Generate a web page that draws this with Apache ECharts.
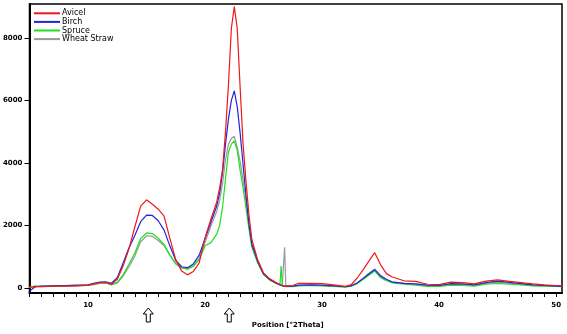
<!DOCTYPE html>
<html>
<head>
<meta charset="utf-8">
<script src="https://cdn.jsdelivr.net/npm/echarts@6/dist/echarts.min.js"></script>
<style>
  html, body { margin: 0; padding: 0; background: #fff; }
  #main { width: 567px; height: 334px; }
</style>
</head>
<body>
<div id="main"></div>
<script>
// 2Theta positions (deg) and intensities
var twoTheta = [5, 5.5, 6, 7, 8, 9, 10, 10.5, 11, 11.5, 12, 12.5, 13, 13.5, 14, 14.5, 15, 15.5, 16, 16.5,
  17, 17.5, 18, 18.5, 19, 19.5, 20, 20.5, 21, 21.25, 21.5, 21.75, 22, 22.25, 22.5, 22.75, 23, 23.25, 23.5, 23.75,
  24, 24.5, 25, 25.5, 26, 26.4, 26.5, 26.6, 26.7, 26.8, 26.9, 27, 27.5, 28, 29, 30, 31, 32, 32.5, 33,
  33.5, 34, 34.5, 35, 35.5, 36, 37, 38, 39, 40, 41, 42, 43, 44, 45, 46, 47, 48, 49, 50, 50.5];

var avicel = [20, 50, 40, 60, 60, 70, 90, 130, 170, 180, 120, 280, 700, 1250, 1950, 2620, 2820, 2680, 2520, 2300,
  1580, 900, 540, 420, 530, 800, 1600, 2200, 2750, 3200, 3800, 5000, 6500, 8300, 9000, 8300, 6400, 4600, 3400, 2350,
  1550, 900, 480, 300, 190, 110, 90, 80, 70, 60, 60, 60, 80, 150, 150, 140, 100, 50, 110, 320,
  580, 860, 1130, 740, 460, 350, 230, 210, 120, 110, 190, 170, 130, 220, 260, 210, 170, 130, 100, 80, 70];

var birch = [-100, 40, 60, 70, 80, 90, 100, 150, 190, 200, 150, 330, 800, 1280, 1680, 2120, 2330, 2320, 2150, 1850,
  1340, 880, 680, 650, 770, 1050, 1580, 2100, 2620, 3050, 3700, 4600, 5400, 6000, 6300, 5800, 4950, 3950, 2950, 2050,
  1400, 850, 450, 280, 170, 100, 80, 70, 70, 60, 50, 50, 60, 90, 100, 90, 70, 40, 70, 160,
  300, 450, 580, 380, 270, 190, 150, 130, 90, 80, 140, 130, 100, 170, 220, 180, 140, 100, 80, 60, 50];

var spruce = [30, 60, 50, 70, 70, 80, 90, 120, 160, 170, 110, 180, 420, 760, 1120, 1580, 1760, 1740, 1590, 1390,
  1050, 770, 640, 600, 700, 900, 1350, 1450, 1720, 2000, 2600, 3500, 4350, 4600, 4700, 4400, 3750, 3200, 2550, 1900,
  1300, 800, 430, 260, 160, 110, 700, 80, 60, 50, 40, 40, 40, 70, 80, 70, 50, 30, 60, 140,
  270, 410, 540, 330, 230, 160, 120, 90, 50, 50, 90, 80, 60, 120, 150, 120, 100, 70, 60, 50, 40];

var wheatStraw = [10, 40, 40, 50, 60, 70, 80, 110, 150, 160, 100, 160, 380, 680, 1020, 1480, 1670, 1650, 1520, 1350,
  1050, 780, 650, 620, 700, 950, 1450, 1980, 2450, 2800, 3350, 4100, 4600, 4780, 4850, 4500, 4050, 3450, 2800, 2000,
  1350, 820, 440, 270, 170, 100, 90, 80, 120, 1300, 80, 50, 50, 80, 90, 80, 60, 40, 70, 170,
  310, 470, 610, 400, 280, 200, 150, 120, 80, 70, 120, 110, 90, 150, 190, 150, 120, 90, 70, 60, 50];

var yTickLabels = [0, 2000, 4000, 6000, 8000];
var xTickLabels = [10, 20, 30, 40, 50];
var arrowPositions = [15.15, 22.07];

function pairs(ys) {
  return twoTheta.map(function (x, i) { return [x, ys[i]]; });
}

var xMinorTicks = [];
for (var t = 5; t <= 50; t++) xMinorTicks.push(t);

var chart = echarts.init(document.getElementById('main'));
var lbl = { color: '#000', fontSize: 7, fontWeight: 'bold', fontFamily: 'DejaVu Sans' };

chart.setOption({
  animation: false,
  backgroundColor: '#fff',
  grid: { left: 29, right: 5, top: 4, bottom: 40, show: true, borderColor: '#000', borderWidth: 1.5 },
  legend: {
    orient: 'vertical', left: 29, top: 4, itemGap: 0,
    itemWidth: 26, itemHeight: 2, icon: 'rect',
    textStyle: { color: '#000', fontSize: 8, fontFamily: 'DejaVu Sans', lineHeight: 8.6, padding: [0, 0, 0, -3] },
    data: ['Avicel', 'Birch', 'Spruce', 'Wheat Straw']
  },
  xAxis: {
    type: 'value', min: 5, max: 50.5,
    name: 'Position [°2Theta]', nameLocation: 'middle', nameGap: 29,
    nameTextStyle: { color: '#000', fontSize: 7, fontWeight: 'bold', fontFamily: 'DejaVu Sans', padding: [0, 16, 0, 0] },
    axisLine: { onZero: false, lineStyle: { color: '#000', width: 2 } },
    axisTick: { customValues: xMinorTicks, length: 4, lineStyle: { color: '#000' } },
    axisLabel: Object.assign({ customValues: xTickLabels, margin: 9, formatter: '{value}' }, lbl),
    splitLine: { show: false }
  },
  yAxis: {
    type: 'value', min: -160, max: 9080,
    axisLine: { show: true, onZero: false, lineStyle: { color: '#000', width: 2 } },
    axisTick: { customValues: yTickLabels, length: 5, lineStyle: { color: '#000' } },
    axisLabel: Object.assign({ customValues: yTickLabels, margin: 7, formatter: function (v) { return String(v); } }, lbl),
    splitLine: { show: false }
  },
  series: [
    { name: 'Wheat Straw', type: 'line', data: pairs(wheatStraw), showSymbol: false, z: 1,
      lineStyle: { color: '#999999', width: 1.2 }, itemStyle: { color: '#999999' } },
    { name: 'Spruce', type: 'line', data: pairs(spruce), showSymbol: false, z: 2,
      lineStyle: { color: '#1ee01e', width: 1.2 }, itemStyle: { color: '#1ee01e' } },
    { name: 'Birch', type: 'line', data: pairs(birch), showSymbol: false, z: 3,
      lineStyle: { color: '#2323dc', width: 1.2 }, itemStyle: { color: '#2323dc' } },
    { name: 'Avicel', type: 'line', data: pairs(avicel), showSymbol: false, z: 4,
      lineStyle: { color: '#f01818', width: 1.2 }, itemStyle: { color: '#f01818' } }
  ]
});

// hollow up-arrows under the x axis marking the two cellulose peaks
var arrows = arrowPositions.map(function (x) {
  var cx = chart.convertToPixel({ xAxisIndex: 0 }, x);
  var top = 308, bot = 322;
  return {
    type: 'polygon',
    shape: { points: [[cx, top], [cx + 5, top + 6], [cx + 2, top + 6], [cx + 2, bot], [cx - 2, bot], [cx - 2, top + 6], [cx - 5, top + 6]] },
    style: { fill: '#fff', stroke: '#000', lineWidth: 1 }
  };
});
chart.setOption({ graphic: arrows });
</script>
</body>
</html>
